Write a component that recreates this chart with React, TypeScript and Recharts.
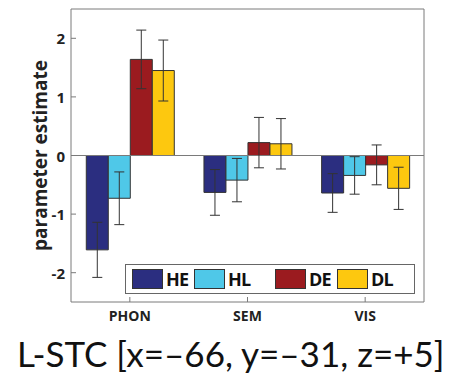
import React from "react";
import {
  BarChart,
  Bar,
  XAxis,
  YAxis,
  ErrorBar,
  ReferenceLine,
} from "recharts";

const categories = ["PHON", "SEM", "VIS"];
const seriesNames = ["HE", "HL", "DE", "DL"];
const seriesColors = ["#2b2e80", "#4fc8e8", "#9b1b1f", "#fdc80f"];

const heValues = [-1.61, -0.63, -0.64];
const heErrors = [0.47, 0.39, 0.33];
const hlValues = [-0.73, -0.42, -0.34];
const hlErrors = [0.45, 0.37, 0.32];
const deValues = [1.64, 0.22, -0.16];
const deErrors = [0.5, 0.43, 0.34];
const dlValues = [1.45, 0.2, -0.56];
const dlErrors = [0.52, 0.43, 0.36];

const yTicks = [-2, -1, 0, 1, 2];
const title = "L-STC [x=\u201366, y=\u201331, z=+5]";

const chartData = categories.map((cat, i) => ({
  cat,
  HE: heValues[i],
  HEerr: heErrors[i],
  HL: hlValues[i],
  HLerr: hlErrors[i],
  DE: deValues[i],
  DEerr: deErrors[i],
  DL: dlValues[i],
  DLerr: dlErrors[i],
}));

const axisGrey = "#7a7a7a";
const font = "'Open Sans', sans-serif";

// bottom labels with small inward tick marks
const XTick = (props: any) => {
  const { x, y, payload } = props;
  const m = 14;
  return (
    <g>
      <line x1={x} x2={x} y1={y - m} y2={y - m - 5} stroke={axisGrey} />
      <text
        x={x}
        y={y + 1}
        textAnchor="middle"
        dominantBaseline="middle"
        fontFamily={font}
        fontWeight={700}
        fontSize={14}
        fill="#222"
      >
        {payload.value}
      </text>
    </g>
  );
};

const YTick = (props: any) => {
  const { x, y, payload } = props;
  const m = 6;
  return (
    <g>
      <line x1={x + m} x2={x + m + 5} y1={y} y2={y} stroke={axisGrey} />
      <text
        x={x}
        y={y}
        textAnchor="end"
        dominantBaseline="central"
        fontFamily={font}
        fontWeight={700}
        fontSize={15}
        fill="#222"
      >
        {payload.value}
      </text>
    </g>
  );
};

// legend slot widths, as in the original figure
const legendSlots = [62, 81, 62, 70];

export default function App() {
  return (
    <div
      style={{
        position: "absolute",
        left: 0,
        top: 0,
        width: 474,
        height: 381,
        background: "#fff",
      }}
    >
      <BarChart
        width={474}
        height={381}
        data={chartData}
        margin={{ top: 9, right: 50, bottom: 49, left: 0 }}
        barCategoryGap="13%"
        barGap={0}
      >
        <XAxis
          dataKey="cat"
          tick={<XTick />}
          tickLine={false}
          tickSize={0}
          tickMargin={14}
          height={30}
          axisLine={{ stroke: axisGrey }}
        />
        <XAxis
          xAxisId="top"
          dataKey="cat"
          orientation="top"
          mirror
          height={1}
          tick={false}
          tickSize={5}
          tickLine={{ stroke: axisGrey }}
          axisLine={{ stroke: axisGrey }}
        />
        <YAxis
          domain={[-2.5, 2.5]}
          ticks={yTicks}
          width={71}
          tick={<YTick />}
          tickLine={false}
          tickSize={0}
          tickMargin={6}
          axisLine={{ stroke: axisGrey }}
          label={{
            value: "parameter estimate",
            angle: -90,
            position: "center",
            dx: 5,
            style: {
              fontFamily: font,
              fontWeight: 700,
              fontSize: 19,
              fill: "#222",
            },
          }}
        />
        <YAxis
          yAxisId="right"
          orientation="right"
          mirror
          width={1}
          domain={[-2.5, 2.5]}
          ticks={yTicks}
          tick={false}
          tickSize={5}
          tickLine={{ stroke: axisGrey }}
          axisLine={{ stroke: axisGrey }}
        />
        <ReferenceLine y={0} stroke={axisGrey} />
        {seriesNames.map((name, i) => (
          <Bar
            key={name}
            dataKey={name}
            fill={seriesColors[i]}
            stroke="#333"
            strokeWidth={1}
            isAnimationActive={false}
          >
            <ErrorBar
              dataKey={name + "err"}
              direction="y"
              width={5}
              stroke="#333"
              strokeWidth={1}
            />
          </Bar>
        ))}
      </BarChart>

      <div
        style={{
          position: "absolute",
          left: 125,
          top: 264,
          width: 290,
          height: 30,
          boxSizing: "border-box",
          border: "1px solid #666",
          background: "#fff",
          display: "flex",
          alignItems: "center",
          paddingLeft: 6,
        }}
      >
        {seriesNames.map((name, i) => (
          <div
            key={name}
            style={{
              width: legendSlots[i],
              display: "flex",
              alignItems: "center",
            }}
          >
            <div
              style={{
                width: 31,
                height: 20,
                boxSizing: "border-box",
                border: "1px solid #333",
                background: seriesColors[i],
              }}
            />
            <span
              style={{
                marginLeft: 3,
                fontFamily: font,
                fontWeight: 700,
                fontSize: 18,
                color: "#111",
                letterSpacing: -0.8,
              }}
            >
              {name}
            </span>
          </div>
        ))}
      </div>

      <div
        style={{
          position: "absolute",
          left: 17,
          top: 331,
          whiteSpace: "nowrap",
          fontFamily: "Lato, sans-serif",
          fontSize: 35,
          color: "#111",
          lineHeight: "44px",
        }}
      >
        {title}
      </div>
    </div>
  );
}
